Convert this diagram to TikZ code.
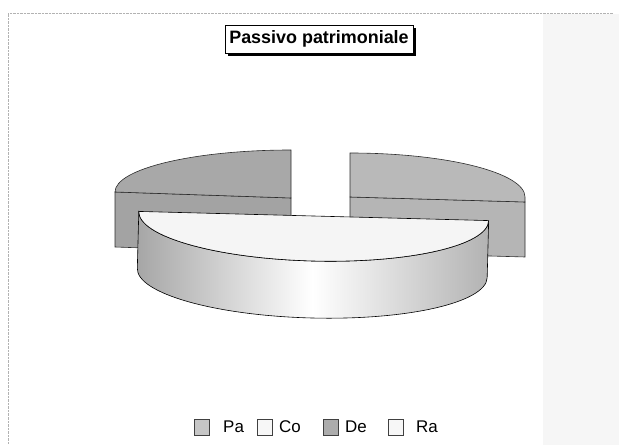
\documentclass[tikz,border=0pt]{standalone}
\usepackage{fontspec}
\setmainfont{Liberation Sans}
\usetikzlibrary{shadows}
\tikzset{
    edge/.style={draw=gray!35!black, line width=0.6bp},
    legbox/.style={draw=gray!50!black, minimum width=15bp, minimum height=16bp, inner sep=0pt},
    legtext/.style={anchor=west, inner sep=0pt, font=\fontsize{17}{19}\selectfont}
}
\begin{document}
\begin{tikzpicture}[x=1bp, y=-1bp]
    \useasboundingbox (0,0) rectangle (619,445);

    % Chart area
    \fill[gray!7] (543,14) rectangle (619,445);
    \draw[gray!60, densely dotted] (8,445) -- (8,13) -- (613,13);

    % Title
    \node[draw, fill=white, general shadow={fill=black, shadow xshift=3bp, shadow yshift=-3bp},
          inner xsep=4bp, inner ysep=5.5bp, font=\bfseries\fontsize{18}{20}\selectfont] (title) at (319,39) {Passivo patrimoniale};

    % Left slice
    \filldraw[edge, fill=gray!72] (115,192) -- (291,198) -- (291,253) -- (115,247) -- cycle;
    \filldraw[edge, fill=gray!68] (115,192) arc[start angle=180, end angle=270, x radius=176, y radius=42] -- (291,198) -- cycle;

    % Right slice
    \filldraw[edge, fill=gray!58] (350,197) -- (525,202) -- (525,257) -- (350,252) -- cycle;
    \filldraw[edge, fill=gray!55] (350,153) arc[start angle=270, end angle=360, x radius=175, y radius=44] -- (525,202) -- (350,197) -- cycle;

    % Front slice
    \begin{scope}[rotate around={-1.5:(313,244)}]
        \draw[edge, draw=black, left color=gray!70, right color=gray!60, middle color=white]
            (138,216) -- (138,273) arc[start angle=180, end angle=0, x radius=175, y radius=45]
            -- (488,216) arc[start angle=0, end angle=180, x radius=175, y radius=45] -- cycle;
        \filldraw[edge, draw=black, fill=gray!8] (138,216) arc[start angle=180, end angle=0, x radius=175, y radius=45] -- cycle;
    \end{scope}

    % Legend
    \node[legbox, fill=gray!45] (pa) at (202,427) {};
    \node[legtext] (pa label) at (223,427) {Pa};
    \node[legbox, fill=gray!6] (co) at (265,427) {};
    \node[legtext] (co label) at (279,427) {Co};
    \node[legbox, fill=gray!65] (de) at (331,427) {};
    \node[legtext] (de label) at (345,427) {De};
    \node[legbox, fill=gray!6] (ra) at (396,427) {};
    \node[legtext] (ra label) at (416,427) {Ra};
\end{tikzpicture}
\end{document}
